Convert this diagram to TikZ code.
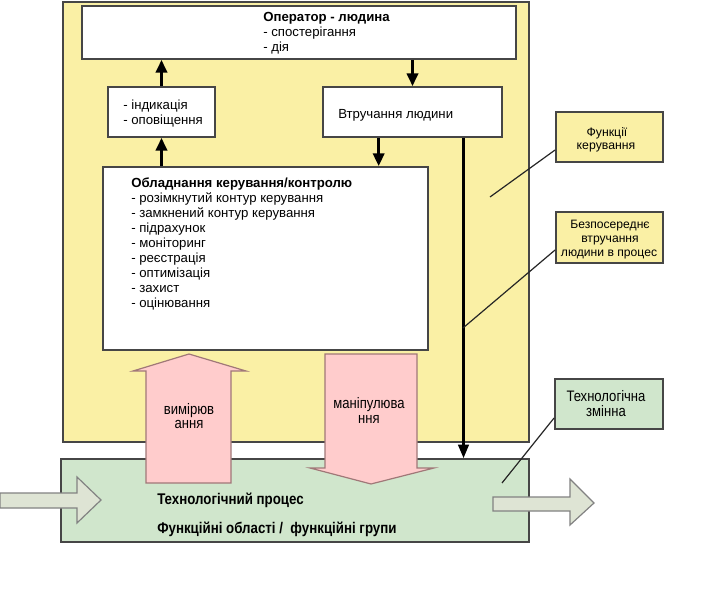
\documentclass[tikz,border=0pt]{standalone}
\usepackage{fontspec}
\setmainfont{Liberation Sans}
\newfontfamily\narrowfont[FakeStretch=0.86]{Liberation Sans}
\usetikzlibrary{arrows.meta,fit,calc}
\definecolor{yel}{RGB}{250,240,165}
\definecolor{grn}{RGB}{208,230,204}
\definecolor{pnk}{RGB}{255,204,204}
\definecolor{pnkline}{RGB}{160,120,120}
\definecolor{ioarrow}{RGB}{222,228,212}
\definecolor{ioline}{RGB}{130,130,130}
\definecolor{edge}{RGB}{70,70,70}
\tikzset{
  area/.style={draw=edge, line width=1.4pt, inner sep=0pt},
  wbox/.style={area, fill=white},
  ybox/.style={area, fill=yel},
  gbox/.style={area, fill=grn},
  txt/.style={inner sep=0pt, font=\fontsize{9.9pt}{11pt}\selectfont, anchor=base west},
  ntxt/.style={inner sep=0pt, font=\narrowfont\fontsize{11.4pt}{12pt}\selectfont, anchor=base},
  arr/.style={line width=1.9pt, -{Triangle[length=9.5pt,width=8.5pt]}},
  thinarr/.style={line width=1.55pt, -{Triangle[length=10pt,width=8pt]}},
  callout/.style={line width=0.9pt, draw=black!85},
  fatarrow/.style={draw=pnkline, line width=0.9pt, fill=pnk, line join=miter},
  ioarr/.style={draw=ioline, line width=0.9pt, fill=ioarrow},
}
\newcommand{\bx}[6]{\node[#6, fit={(#2,#3) (#4,#5)}] (#1) {};}
\begin{document}
\begin{tikzpicture}[x=0.75pt,y=-0.75pt]
\useasboundingbox[fill=white] (0,0) rectangle (707,595);

% big areas
\bx{ctrl}{63}{2}{529}{442}{ybox}
\bx{proc}{61}{459}{529}{542}{gbox}

% input / output arrows
\draw[ioarr] (0,493) -- (77,493) -- (77,477) -- (101,500) -- (77,523) -- (77,508) -- (0,508) -- cycle;
\draw[ioarr] (493,497) -- (570,497) -- (570,479) -- (594,503) -- (570,525) -- (570,511) -- (493,511) -- cycle;

% inner boxes
\bx{op}{82}{6}{516}{59}{wbox}
\bx{ind}{108}{87}{215}{137}{wbox}
\bx{vtr}{323}{87}{502}{137}{wbox}
\bx{eq}{103}{167}{428}{350}{wbox}

% pink process arrows
\draw[fatarrow] (146,483) -- (146,371) -- (133,371) -- (189,354) -- (246,371) -- (231,371) -- (231,483) -- cycle;
\draw[fatarrow] (325,354) -- (417,354) -- (417,468) -- (434,468) -- (371,484) -- (310,468) -- (325,468) -- cycle;
\node[ntxt] (m1) at (189,414) {вимірюв};
\node[ntxt] (m2) at (189,428) {ання};
\node[ntxt] (p1) at (369,408) {маніпулюва};
\node[ntxt] (p2) at (369,423) {ння};

% texts
\node[txt] (opt) at (263,22) {\bfseries Оператор - людина};
\node[txt] (op1) at (263,37) {- спостерігання};
\node[txt] (op2) at (263,52) {- дія};
\node[txt] (in1) at (123,110) {- індикація};
\node[txt] (in2) at (123,125) {- оповіщення};
\node[txt] (vt1) at (338,119) {Втручання людини};
\node[txt] (eqt) at (131,188) {\bfseries Обладнання керування/контролю};
\foreach \t [count=\i] in {- розімкнутий контур керування, - замкнений контур керування, - підрахунок, - моніторинг, - реєстрація, - оптимізація, - захист, - оцінювання}
  \node[txt] (eq\i) at (131,{188+14.9*\i}) {\t};
\node[txt, font=\narrowfont\bfseries\fontsize{11.6pt}{12pt}\selectfont] (pr1) at (157,504) {Технологічний процес};
\node[txt, font=\narrowfont\bfseries\fontsize{11.6pt}{12pt}\selectfont] (pr2) at (157,533) {Функційні області /\ \ функційні групи};

% connectors
\path (vtr.south west) -- (vtr.south east) coordinate[pos=0.313] (vtrA) coordinate[pos=0.782] (vtrB);
\draw[arr] (ind.north) -- (ind.north |- op.south);
\draw[arr] (ind.south |- eq.north) -- (ind.south);
\draw[arr] (vtr.north |- op.south) -- (vtr.north);
\draw[arr] (vtrA) -- (vtrA |- eq.north);
\draw[thinarr] (vtrB) -- (vtrB |- proc.north);

% side labels
\bx{fk}{556}{112}{663}{162}{ybox}
\bx{bv}{556}{212}{663}{263}{ybox}
\bx{tz}{555}{379}{663}{429}{gbox}
\node[inner sep=0pt, anchor=base, font=\fontsize{9.2pt}{10pt}\selectfont] (fk1) at (607,137) {Функції};
\node[inner sep=0pt, anchor=base, font=\fontsize{9.2pt}{10pt}\selectfont] (fk2) at (606,150) {керування};
\node[inner sep=0pt, anchor=base, font=\fontsize{9.1pt}{10pt}\selectfont] (bv1) at (610,229) {Безпосереднє};
\node[inner sep=0pt, anchor=base, font=\fontsize{9.1pt}{10pt}\selectfont] (bv2) at (610,243) {втручання};
\node[inner sep=0pt, anchor=base, font=\fontsize{9.1pt}{10pt}\selectfont] (bv3) at (609,257) {людини в процес};
\node[ntxt] (tz1) at (606,401) {Технологічна};
\node[ntxt] (tz2) at (606,416) {змінна};

\coordinate (fkE) at (490,197);
\coordinate (bvE) at (463,328);
\coordinate (tzE) at (502,483);
\draw[callout] (fk.west |- 0,150) -- (fkE);
\draw[callout] (bv.west |- 0,250) -- (bvE);
\draw[callout] (tz.west |- 0,418) -- (tzE);
\end{tikzpicture}
\end{document}
